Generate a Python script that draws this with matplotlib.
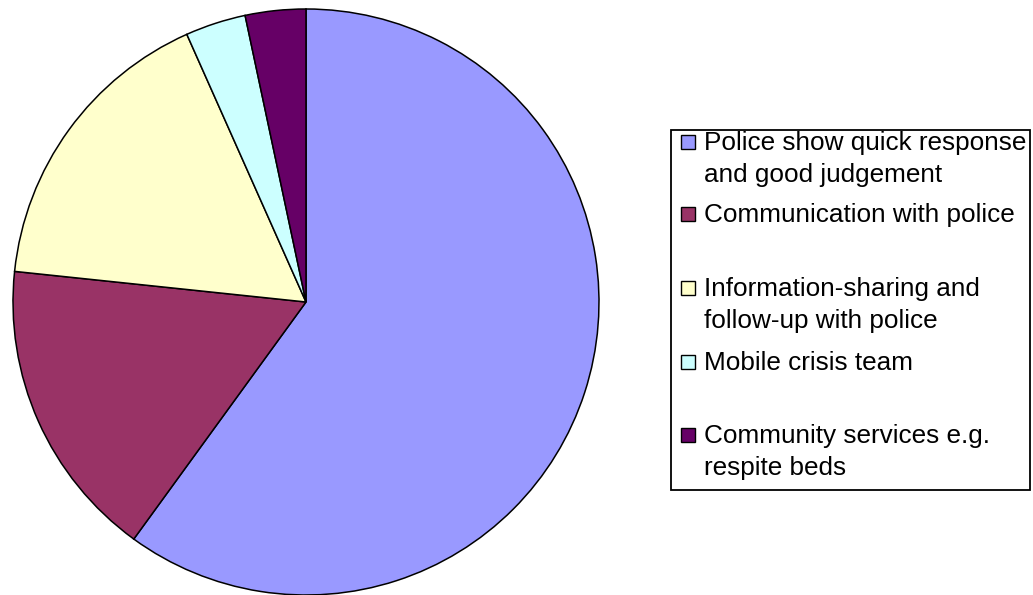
import matplotlib.pyplot as plt
from matplotlib.patches import Rectangle

plt.rcParams['font.family'] = ['Liberation Sans', 'DejaVu Sans']

labels = [
    'Police show quick response\nand good judgement',
    'Communication with police',
    'Information-sharing and\nfollow-up with police',
    'Mobile crisis team',
    'Community services e.g.\nrespite beds',
]
counts = [18, 5, 5, 1, 1]
colors = ['#9999FF', '#993366', '#FFFFCC', '#CCFFFF', '#660066']

W, H = 1033, 595
fig = plt.figure(figsize=(W / 100, H / 100), dpi=100)

# pie axes, placed in pixels: centre (306, 302), radius 293
cx, cy, r = 306, 302, 293
ax = fig.add_axes([(cx - r) / W, 1 - (cy + r) / H, 2 * r / W, 2 * r / H])
ax.pie(counts, colors=colors, startangle=90, counterclock=False,
       wedgeprops=dict(edgecolor='black', linewidth=1.1))
ax.set_xlim(-1, 1)
ax.set_ylim(-1, 1)
ax.set_aspect('equal')
ax.axis('off')

# hand-made legend with uneven spacing, like the original
box = Rectangle((671 / W, 1 - 490 / H), 359 / W, 360 / H, transform=fig.transFigure,
                facecolor='white', edgecolor='black', linewidth=1.3)
fig.patches.append(box)

first_baselines = [150, 222, 296, 370, 443]
line_px = 32
for lab, col, y in zip(labels, colors, first_baselines):
    fig.patches.append(Rectangle((681 / W, 1 - (y - 1) / H), 14 / W, 14 / H,
                                 transform=fig.transFigure, facecolor=col,
                                 edgecolor='black', linewidth=1))
    # va='baseline' pins the last line, so step down for two-line labels
    last = y + line_px * lab.count('\n')
    fig.text(704 / W, 1 - last / H, lab, fontsize=18.8, va='baseline', ha='left',
             linespacing=1.42)

fig.savefig('out.png', dpi=100)
